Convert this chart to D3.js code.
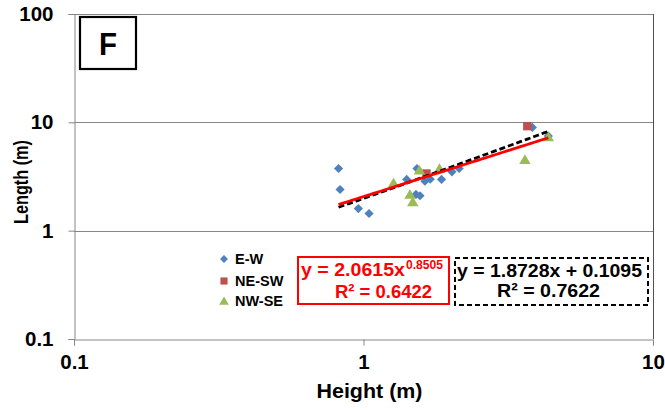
<!DOCTYPE html>
<html>
<head>
<meta charset="utf-8">
<script src="https://cdn.jsdelivr.net/npm/d3@7"></script>
<style>
  html, body { margin: 0; padding: 0; background: #ffffff; }
  svg { display: block; }
  text { font-family: "Liberation Sans", Arial, sans-serif; font-weight: bold; }
</style>
</head>
<body>
<svg id="chart" width="665" height="410"></svg>
<script>
// Joint measurements: height and length (m) by orientation set
const ewHeight   = [0.82, 0.83, 0.96, 1.045, 1.41, 1.53, 1.518, 1.567, 1.63, 1.70, 1.86, 2.02, 2.14, 3.83, 4.35];
const ewLength   = [3.75, 2.40, 1.60, 1.44, 2.97, 3.75, 2.16, 2.10, 2.86, 2.99, 2.97, 3.49, 3.75, 8.97, 7.46];
const neswHeight = [1.65, 3.68];
const neswLength = [3.37, 9.22];
const nwseHeight = [1.27, 1.447, 1.48, 1.56, 1.83, 3.61, 4.35];
const nwseLength = [2.76, 2.16, 1.85, 3.62, 3.75, 4.54, 7.35];

const seriesNames = ["E-W", "NE-SW", "NW-SE"];
const xTicks = [0.1, 1, 10];
const yTicks = [0.1, 1, 10, 100];
const xTickLabels = ["0.1", "1", "10"];
const yTickLabels = ["0.1", "1", "10", "100"];

// Fitted trend lines (power and linear)
const powerFit = { a: 2.0615, b: 0.8505, r2: "0.6422" };
const linearFit = { m: 1.8728, c: 0.1095, r2: "0.7622" };

const svg = d3.select("#chart");
const plot = { left: 74, right: 653, top: 14, bottom: 339 };

const x = d3.scaleLog().domain([0.1, 10]).range([plot.left, plot.right]);
const y = d3.scaleLog().domain([0.1, 100]).range([plot.bottom, plot.top]);

const gridColor = "#878787";

// horizontal gridlines at each decade
svg.append("g")
  .selectAll("line")
  .data(yTicks.slice(1))
  .join("line")
  .attr("x1", plot.left).attr("x2", plot.right)
  .attr("y1", d => Math.round(y(d)) + 0.5).attr("y2", d => Math.round(y(d)) + 0.5)
  .attr("stroke", gridColor).attr("stroke-width", 1);

// right edge of the plot area
svg.append("line")
  .attr("x1", plot.right + 0.5).attr("x2", plot.right + 0.5)
  .attr("y1", plot.top).attr("y2", plot.bottom)
  .attr("stroke", "#505050").attr("stroke-width", 1);

// axes
const xAxis = d3.axisBottom(x).tickValues(xTicks).tickFormat((d, i) => xTickLabels[i]).tickSize(6).tickPadding(5);
const yAxis = d3.axisLeft(y).tickValues(yTicks).tickFormat((d, i) => yTickLabels[i]).tickSize(6).tickPadding(15);

const gx = svg.append("g").attr("transform", `translate(0,${plot.bottom + 0.5})`).call(xAxis);
const gy = svg.append("g").attr("transform", `translate(${plot.left + 0.5},0)`).call(yAxis);
[gx, gy].forEach(g => {
  g.select(".domain").attr("stroke", gridColor);
  g.selectAll(".tick line").attr("stroke", gridColor);
  g.selectAll(".tick text")
    .attr("fill", "#000")
    .style("font-family", "'Liberation Sans', Arial, sans-serif")
    .style("font-weight", "bold")
    .style("font-size", "20.5px");
});
gx.selectAll(".tick text").attr("dy", "0.92em");

// axis titles
svg.append("text")
  .attr("x", (plot.left + plot.right) / 2 + 6).attr("y", 398)
  .attr("text-anchor", "middle").attr("font-size", 21)
  .attr("textLength", 106).attr("lengthAdjust", "spacingAndGlyphs")
  .text("Height (m)");

svg.append("text")
  .attr("transform", "translate(28,182) rotate(-90)")
  .attr("text-anchor", "middle").attr("font-size", 21)
  .attr("textLength", 84).attr("lengthAdjust", "spacingAndGlyphs")
  .text("Length (m)");

// markers
const diamond = s => `M0,${-s}L${s},0L0,${s}L${-s},0Z`;
const square = s => `M${-s},${-s}H${s}V${s}H${-s}Z`;
const triangle = s => `M0,${-s}L${s * 1.1},${s * 0.85}L${-s * 1.1},${s * 0.85}Z`;

const series = [
  { name: seriesNames[0], hx: ewHeight, ly: ewLength, color: "#4F81BD", shape: diamond, size: 4.6 },
  { name: seriesNames[1], hx: neswHeight, ly: neswLength, color: "#C0504D", shape: square, size: 4.2 },
  { name: seriesNames[2], hx: nwseHeight, ly: nwseLength, color: "#9BBB59", shape: triangle, size: 5.2 }
];

series.forEach(s => {
  svg.append("g")
    .selectAll("path")
    .data(s.hx.map((h, i) => [h, s.ly[i]]))
    .join("path")
    .attr("d", s.shape(s.size))
    .attr("transform", d => `translate(${x(d[0])},${y(d[1])})`)
    .attr("fill", s.color);
});

// trend lines over the full range of heights
const allH = ewHeight.concat(neswHeight, nwseHeight);
const hMin = d3.min(allH), hMax = d3.max(allH);
const hs = d3.range(0, 61).map(i => hMin * Math.pow(hMax / hMin, i / 60));
const line = d3.line().x(d => x(d[0])).y(d => y(d[1]));

svg.append("path")
  .datum(hs.map(h => [h, linearFit.m * h + linearFit.c]))
  .attr("d", line)
  .attr("fill", "none").attr("stroke", "#000").attr("stroke-width", 2.8)
  .attr("stroke-dasharray", "6,3");

svg.append("path")
  .datum(hs.map(h => [h, powerFit.a * Math.pow(h, powerFit.b)]))
  .attr("d", line)
  .attr("fill", "none").attr("stroke", "#FF0000").attr("stroke-width", 2.8);

// panel label
svg.append("rect")
  .attr("x", 80).attr("y", 17).attr("width", 56).attr("height", 52)
  .attr("fill", "#fff").attr("stroke", "#000").attr("stroke-width", 2.2);
svg.append("text")
  .attr("x", 108).attr("y", 55).attr("text-anchor", "middle")
  .attr("font-size", 31).attr("textLength", 18).attr("lengthAdjust", "spacingAndGlyphs")
  .text("F");

// legend
const legend = svg.append("g");
const legendY = [259, 281, 301];
series.forEach((s, i) => {
  legend.append("path")
    .attr("d", s.shape(s.size * 0.85))
    .attr("transform", `translate(224,${legendY[i]})`)
    .attr("fill", s.color);
  legend.append("text")
    .attr("x", 235).attr("y", legendY[i] + 5)
    .attr("font-size", 14.5)
    .text(s.name);
});

// power fit equation box
svg.append("rect")
  .attr("x", 298).attr("y", 257).attr("width", 151).attr("height", 47)
  .attr("fill", "#fff").attr("stroke", "#FF0000").attr("stroke-width", 2);
svg.append("text")
  .attr("x", 301).attr("y", 276).attr("font-size", 19).attr("fill", "#FF0000")
  .attr("textLength", 104).attr("lengthAdjust", "spacingAndGlyphs")
  .text(`y = ${powerFit.a}x`);
svg.append("text")
  .attr("x", 406).attr("y", 269).attr("font-size", 12.5).attr("fill", "#FF0000")
  .attr("textLength", 37).attr("lengthAdjust", "spacingAndGlyphs")
  .text(powerFit.b);
svg.append("text")
  .attr("x", 335).attr("y", 298).attr("font-size", 19).attr("fill", "#FF0000")
  .attr("textLength", 97).attr("lengthAdjust", "spacingAndGlyphs")
  .text(`R² = ${powerFit.r2}`);

// linear fit equation box
svg.append("rect")
  .attr("x", 455).attr("y", 258).attr("width", 193).attr("height", 47)
  .attr("fill", "#fff").attr("stroke", "#000").attr("stroke-width", 2)
  .attr("stroke-dasharray", "5,3");
svg.append("text")
  .attr("x", 457).attr("y", 277).attr("font-size", 19).attr("fill", "#000")
  .attr("textLength", 185).attr("lengthAdjust", "spacingAndGlyphs")
  .text(`y = ${linearFit.m}x + ${linearFit.c}`);
svg.append("text")
  .attr("x", 497).attr("y", 297).attr("font-size", 19).attr("fill", "#000")
  .attr("textLength", 103).attr("lengthAdjust", "spacingAndGlyphs")
  .text(`R² = ${linearFit.r2}`);
</script>
</body>
</html>
